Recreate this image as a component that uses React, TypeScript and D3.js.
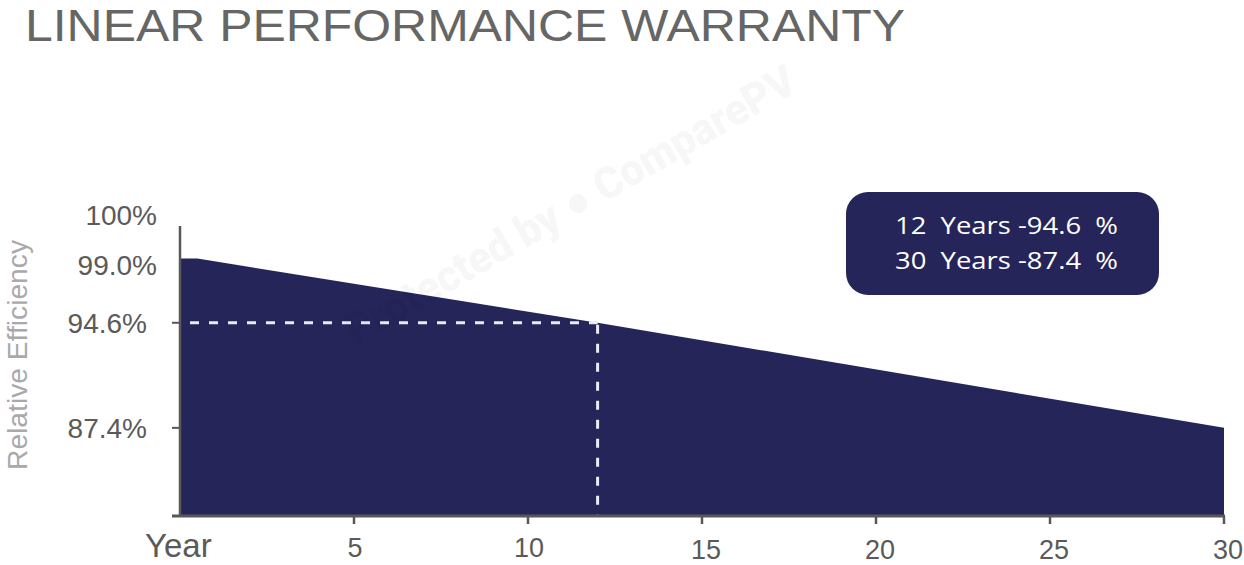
import React from "react";
import * as d3 from "d3";

const years = [0, 0.5, 12, 30];
const efficiency = [99.0, 99.0, 94.6, 87.4];
const yTickValues = [100, 99.0, 94.6, 87.4];
const yTickLabels = ["100%", "99.0%", "94.6%", "87.4%"];
const xTickValues = [5, 10, 15, 20, 25, 30];
const markerYear = 12;
const markerValue = 94.6;
const boxLines = ["12  Years -94.6  %", "30  Years -87.4  %"];
const title = "LINEAR PERFORMANCE WARRANTY";

const W = 1244;
const H = 565;
const FILL = "#26255a";
const AXIS = "#58585a";
const TEXT = "#5a5a5a";

export default function App() {
  const x = d3.scaleLinear().domain([0, 30]).range([180, 1224]);
  const y = d3.scaleLinear().domain([81.43, 101.23]).range([515, 226]);

  const data = years.map((yr, i) => ({ yr, v: efficiency[i] }));
  const area = d3
    .area<{ yr: number; v: number }>()
    .x((d) => x(d.yr))
    .y0(y(81.43))
    .y1((d) => y(d.v));

  // label nudges, to match the reference's hand-placed labels
  const yLabelDy = (v: number) => (v === 100 ? -29 : v === 99 ? 7 : 0);
  const yLabelRight = (v: number) => (v >= 99 ? 157 : 147);

  return (
    <svg
      width={W}
      height={H}
      viewBox={`0 0 ${W} ${H}`}
      style={{ position: "absolute", left: 0, top: 0, display: "block", background: "#fff" }}
    >
      {/* Title */}
      <text
        x={25}
        y={41}
        fontFamily="'Liberation Sans Narrow', 'Liberation Sans', sans-serif"
        fontSize={44}
        fill="#666666"
        textLength={880}
        lengthAdjust="spacingAndGlyphs"
      >
        {title}
      </text>

      {/* Area */}
      <path d={area(data) || ""} fill={FILL} />

      {/* Dashed reference lines */}
      <line
        x1={190}
        x2={x(markerYear)}
        y1={y(markerValue)}
        y2={y(markerValue)}
        stroke="#ebebf3"
        strokeWidth={3}
        strokeDasharray="9 10"
      />
      <line
        x1={x(markerYear)}
        x2={x(markerYear)}
        y1={y(markerValue) + 2}
        y2={515}
        stroke="#ebebf3"
        strokeWidth={3}
        strokeDasharray="9 10"
      />

      {/* Watermark */}
      <text
        transform="translate(572,208) rotate(-30)"
        textAnchor="middle"
        dominantBaseline="middle"
        fontFamily="Roboto, sans-serif"
        fontWeight={900}
        fontSize={44}
        fill="#000"
        fillOpacity={0.05}
        textLength={513}
        lengthAdjust="spacingAndGlyphs"
      >
        Protected by ● ComparePV
      </text>

      {/* Y axis */}
      <line x1={180} x2={180} y1={226} y2={516} stroke={AXIS} strokeWidth={2.5} />
      {[markerValue, 87.4].map((v) => (
        <line key={v} x1={172} x2={180} y1={y(v)} y2={y(v)} stroke={AXIS} strokeWidth={2} />
      ))}
      {yTickValues.map((v, i) => (
        <text
          key={v}
          x={yLabelRight(v)}
          y={y(v) + yLabelDy(v)}
          dy="0.35em"
          textAnchor="end"
          fontFamily="'Liberation Sans', Arial, sans-serif"
          fontSize={28}
          fill={TEXT}
        >
          {yTickLabels[i]}
        </text>
      ))}
      <text
        transform="translate(27,355) rotate(-90)"
        textAnchor="middle"
        fontFamily="'Liberation Sans', Arial, sans-serif"
        fontSize={27}
        fill="#a9a9ab"
        textLength={230}
        lengthAdjust="spacingAndGlyphs"
      >
        Relative Efficiency
      </text>

      {/* X axis */}
      <line x1={172} x2={1225} y1={516} y2={516} stroke={AXIS} strokeWidth={3} />
      {xTickValues.map((v) => (
        <line key={v} x1={x(v)} x2={x(v)} y1={516} y2={524} stroke={AXIS} strokeWidth={2.5} />
      ))}
      {xTickValues.map((v) => (
        <text
          key={v}
          x={x(v) + (v >= 15 ? 4 : 1)}
          y={v >= 15 ? 559 : 557}
          textAnchor="middle"
          fontFamily="'Liberation Sans', Arial, sans-serif"
          fontSize={27}
          fill={TEXT}
        >
          {v}
        </text>
      ))}
      <text
        x={145}
        y={557}
        fontFamily="'Liberation Sans', Arial, sans-serif"
        fontSize={33}
        fill={TEXT}
      >
        Year
      </text>

      {/* Info box */}
      <rect x={846} y={192} width={313} height={103} rx={22} ry={22} fill={FILL} />
      {boxLines.map((t, i) => (
        <text
          key={t}
          x={895}
          y={234 + i * 35}
          fontFamily="'Open Sans', sans-serif"
          fontSize={24}
          fill="#ffffff"
          textLength={223}
          lengthAdjust="spacingAndGlyphs"
          style={{ whiteSpace: "pre" }}
        >
          {t}
        </text>
      ))}
    </svg>
  );
}
